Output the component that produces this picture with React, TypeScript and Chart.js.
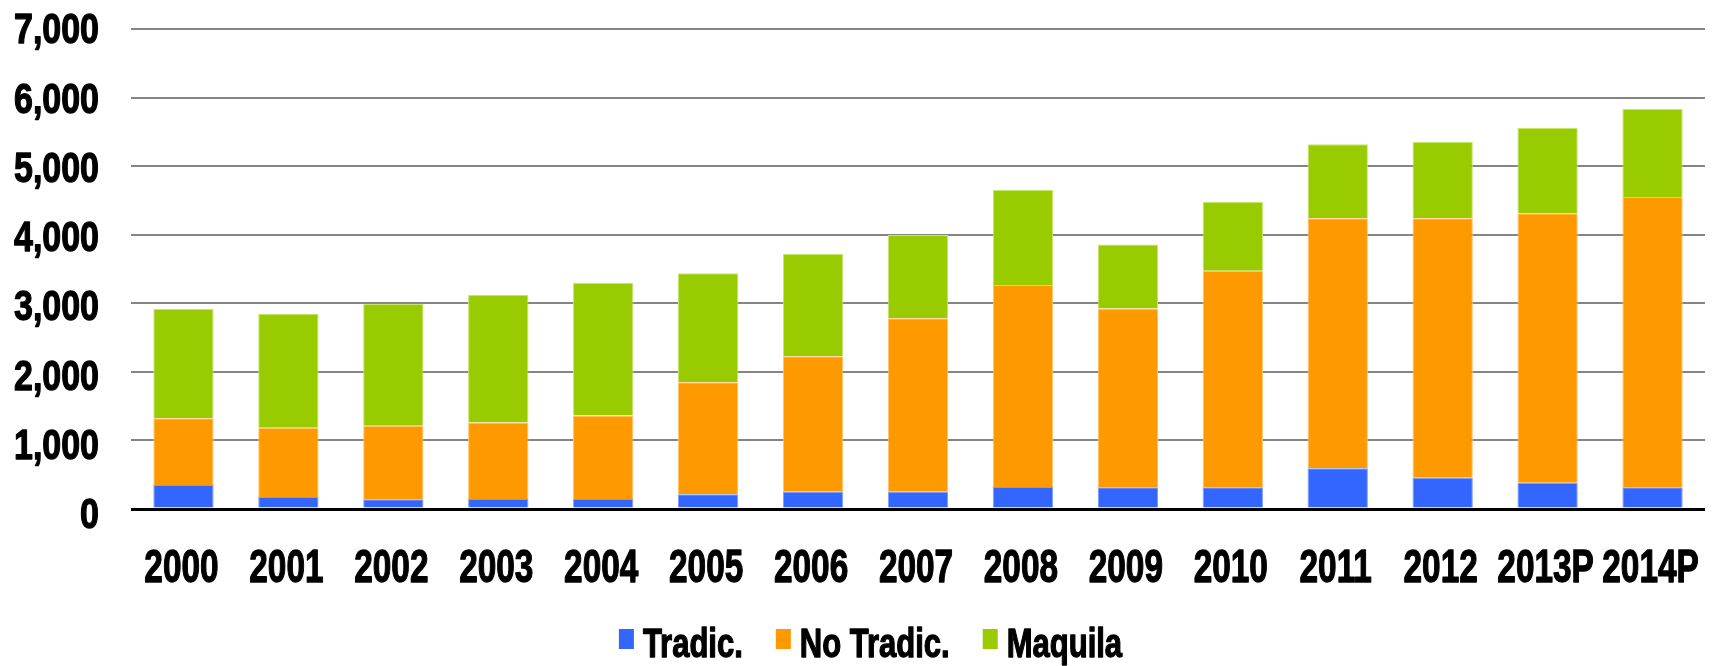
import React, { useEffect, useRef } from "react";
import { Chart, registerables } from "chart.js";

Chart.register(...registerables);

const categories = ["2000", "2001", "2002", "2003", "2004", "2005", "2006", "2007", "2008", "2009", "2010", "2011", "2012", "2013P", "2014P"];
const tradic = [350, 175, 141, 146, 146, 214, 253, 253, 321, 318, 316, 593, 457, 384, 316];
const noTradic = [973, 1011, 1074, 1115, 1218, 1633, 1973, 2528, 2946, 2606, 3160, 3646, 3782, 3928, 4234];
const maquila = [1595, 1662, 1779, 1863, 1936, 1590, 1493, 1215, 1385, 932, 1001, 1079, 1113, 1244, 1283];
const yTicks = [0, 1000, 2000, 3000, 4000, 5000, 6000, 7000];

const FONT = "'Liberation Sans', Arial, sans-serif";

function drawNarrow(ctx: CanvasRenderingContext2D, text: string, x: number, y: number, align: CanvasTextAlign, size: number, sx: number) {
  ctx.save();
  ctx.translate(x, y);
  ctx.scale(sx, 1);
  ctx.font = `bold ${size}px ${FONT}`;
  ctx.textAlign = align;
  ctx.textBaseline = "alphabetic";
  ctx.fillStyle = "#000";
  ctx.strokeStyle = "#000";
  ctx.lineWidth = 1.3;
  ctx.lineJoin = "round";
  ctx.fillText(text, 0, 0);
  ctx.strokeText(text, 0, 0);
  ctx.restore();
}

const narrowLabels = {
  id: "narrowLabels",
  afterDraw(chart: any) {
    const ctx: CanvasRenderingContext2D = chart.ctx;
    const area = chart.chartArea;
    const xs = chart.scales.x;
    const ys = chart.scales.y;

    // y-axis labels
    ys.ticks.forEach((t: any, i: number) => {
      const y = ys.getPixelForTick(i);
      const label = Number(t.value).toLocaleString("en-US");
      const shift = 14.3 + ((ys.max - t.value) / (ys.max - ys.min)) * 4.7;
      drawNarrow(ctx, label, area.left - 32, y + shift, "right", 43, 0.79);
    });

    // x-axis labels
    xs.ticks.forEach((t: any, i: number) => {
      const x = xs.getPixelForTick(i);
      const label = xs.getLabelForValue(t.value);
      drawNarrow(ctx, String(label), x - 2, area.bottom + 73, "center", 47, 0.71);
    });

    // legend
    const size = 40;
    const sx = 0.775;
    const boxW = 15;
    const boxH = 20;
    const gap = 9;
    const itemGap = 33;
    ctx.save();
    ctx.font = `bold ${size}px ${FONT}`;
    const items = chart.data.datasets.map((d: any) => ({
      label: d.label,
      color: d.backgroundColor,
      w: ctx.measureText(d.label).width * sx,
    }));
    ctx.restore();
    const total = items.reduce((s: number, it: any) => s + boxW + gap + it.w, 0) + itemGap * (items.length - 1);
    let x = chart.width / 2 + 9 - total / 2;
    const baseline = chart.height - 9;
    items.forEach((it: any) => {
      ctx.save();
      ctx.fillStyle = it.color;
      ctx.fillRect(x, baseline - 28, boxW, boxH);
      ctx.restore();
      drawNarrow(ctx, it.label, x + boxW + gap, baseline, "left", size, sx);
      x += boxW + gap + it.w + itemGap;
    });
  },
};

export default function App() {
  const ref = useRef<HTMLCanvasElement | null>(null);

  useEffect(() => {
    if (!ref.current) return;
    const chart = new Chart(ref.current, {
      type: "bar",
      data: {
        labels: categories,
        datasets: [
          { label: "Tradic.", data: tradic, backgroundColor: "#3366FF", borderColor: "#7a9cff", borderWidth: 1 },
          { label: "No Tradic.", data: noTradic, backgroundColor: "#FF9900", borderColor: "#ffc46b", borderWidth: 1 },
          { label: "Maquila", data: maquila, backgroundColor: "#99CC00", borderColor: "#c8e66b", borderWidth: 1 },
        ],
      },
      options: {
        responsive: false,
        animation: false,
        devicePixelRatio: 1,
        layout: { padding: { left: 131, right: 18, top: 29, bottom: 157 } },
        datasets: { bar: { categoryPercentage: 1, barPercentage: 0.575 } },
        plugins: {
          tooltip: { enabled: false },
          legend: { display: false },
        },
        scales: {
          x: {
            stacked: true,
            grid: { display: false, drawTicks: false },
            border: { display: false },
            ticks: { display: false, autoSkip: false, padding: 0 },
          },
          y: {
            stacked: true,
            min: 0,
            max: 7000,
            afterBuildTicks: (axis: any) => {
              axis.ticks = yTicks.map((v) => ({ value: v }));
            },
            grid: {
              color: (ctx: any) => (ctx.tick && ctx.tick.value === 0 ? "#000" : "#858585"),
              lineWidth: (ctx: any) => (ctx.tick && ctx.tick.value === 0 ? 3 : 2),
              drawTicks: false,
            },
            border: { display: false },
            ticks: { display: false, padding: 0 },
          },
        },
      },
      plugins: [narrowLabels],
    });
    return () => chart.destroy();
  }, []);

  return (
    <div style={{ position: "fixed", left: 0, top: 0, width: 1723, height: 666, background: "#fff" }}>
      <canvas ref={ref} width={1723} height={666} style={{ display: "block", width: 1723, height: 666 }} />
    </div>
  );
}
